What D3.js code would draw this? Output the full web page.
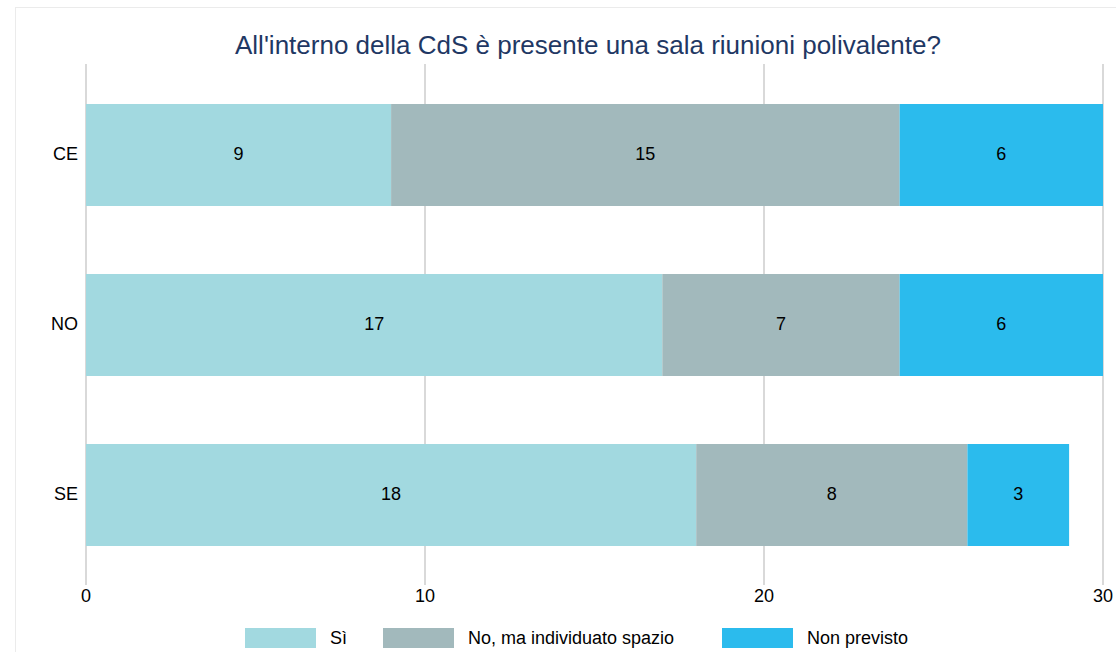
<!DOCTYPE html>
<html>
<head>
<meta charset="utf-8">
<script src="https://cdn.jsdelivr.net/npm/d3@7"></script>
<style>
  body { margin: 0; background: #fff; }
  svg { font-family: "Liberation Sans", Arial, sans-serif; }
</style>
</head>
<body>
<div id="chart"></div>
<script>
var categories = ["CE", "NO", "SE"];
var seriesNames = ["Sì", "No, ma individuato spazio", "Non previsto"];
var si = [9, 17, 18];
var noSpazio = [15, 7, 8];
var nonPrevisto = [6, 6, 3];
var xTicks = [0, 10, 20, 30];
var colors = ["#a2d9e0", "#a2b9bc", "#2bbbed"];

var width = 1116, height = 652;

var svg = d3.select("#chart").append("svg")
    .attr("width", width)
    .attr("height", height);

// outer frame
svg.append("rect")
    .attr("x", 15.5).attr("y", 7.5)
    .attr("width", width).attr("height", height)
    .attr("fill", "none").attr("stroke", "#ebebeb");

svg.append("text")
    .attr("x", 588).attr("y", 54)
    .attr("text-anchor", "middle")
    .attr("fill", "#1f3864")
    .style("font-size", "26px")
    .text("All'interno della CdS è presente una sala riunioni polivalente?");

var rows = categories.map((c, i) => ({ cat: c, vals: [si[i], noSpazio[i], nonPrevisto[i]] }));

var x = d3.scaleLinear().domain([0, 30]).range([86, 1103]);
var y = d3.scaleBand().domain(categories).range([70, 580]).paddingInner(0.4).paddingOuter(0.2);

// grid
svg.append("g").selectAll("line").data(xTicks).join("line")
    .attr("x1", d => x(d)).attr("x2", d => x(d))
    .attr("y1", 64).attr("y2", 585)
    .attr("stroke", "#d9d9d9").attr("stroke-width", 2);

svg.append("g").selectAll("text").data(xTicks).join("text")
    .attr("x", d => x(d)).attr("y", 597)
    .attr("text-anchor", "middle")
    .attr("dominant-baseline", "middle")
    .style("font-size", "18px")
    .text(d => d);

var rowG = svg.append("g").selectAll("g").data(rows).join("g");

rowG.each(function (r) {
    var g = d3.select(this);
    var start = 0;
    r.vals.forEach((v, k) => {
        g.append("rect")
            .attr("x", x(start)).attr("width", x(start + v) - x(start))
            .attr("y", y(r.cat)).attr("height", y.bandwidth())
            .attr("fill", colors[k]);
        g.append("text")
            .attr("x", x(start + v / 2)).attr("y", y(r.cat) + y.bandwidth() / 2)
            .attr("text-anchor", "middle").attr("dominant-baseline", "middle")
            .style("font-size", "18px")
            .text(v);
        start += v;
    });
    g.append("text")
        .attr("x", 78).attr("y", y(r.cat) + y.bandwidth() / 2)
        .attr("text-anchor", "end").attr("dominant-baseline", "middle")
        .style("font-size", "18px")
        .text(r.cat);
});

// legend
var legendX = [245, 383, 722];
var lg = svg.append("g").selectAll("g").data(seriesNames).join("g")
    .attr("transform", (d, i) => "translate(" + legendX[i] + ",628)");
lg.append("rect").attr("width", 71).attr("height", 20).attr("fill", (d, i) => colors[i]);
lg.append("text").attr("x", 85).attr("y", 11)
    .attr("dominant-baseline", "middle")
    .style("font-size", "18px")
    .text(d => d);
</script>
</body>
</html>
